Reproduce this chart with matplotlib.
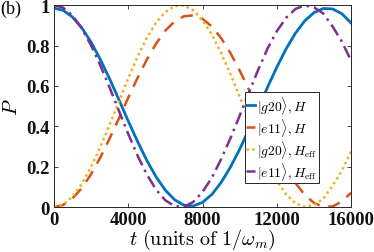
import numpy as np
from matplotlib import pyplot as plt

plt.rcParams['mathtext.fontset'] = 'cm'

# time axis (units of 1/omega_m)
t = np.arange(0, 16001, 500)

# |g20>, H  (full Hamiltonian)
g20_H = [0.985, 0.974, 0.941, 0.888, 0.817, 0.731, 0.635, 0.532, 0.427, 0.326,
         0.232, 0.150, 0.084, 0.037, 0.010, 0.006, 0.024, 0.063, 0.122, 0.198,
         0.287, 0.386, 0.490, 0.594, 0.693, 0.784, 0.861, 0.922, 0.963, 0.983,
         0.981, 0.957, 0.911]
# |e11>, H
e11_H = [0.000, 0.011, 0.043, 0.094, 0.163, 0.246, 0.340, 0.439, 0.541, 0.639,
         0.730, 0.809, 0.874, 0.919, 0.945, 0.949, 0.932, 0.894, 0.837, 0.763,
         0.676, 0.581, 0.480, 0.380, 0.283, 0.195, 0.120, 0.061, 0.021, 0.002,
         0.004, 0.028, 0.072]
# |e11>, H_eff
e11_Heff = [1.000, 0.987, 0.948, 0.885, 0.801, 0.702, 0.592, 0.477, 0.363, 0.256,
            0.163, 0.087, 0.034, 0.005, 0.002, 0.026, 0.075, 0.146, 0.237, 0.341,
            0.453, 0.568, 0.681, 0.785, 0.871, 0.937, 0.981, 0.998, 0.989, 0.958,
            0.894, 0.819, 0.724]
# |g20>, H_eff
g20_Heff = [0.000, 0.013, 0.052, 0.115, 0.199, 0.298, 0.408, 0.523, 0.637, 0.744,
            0.837, 0.913, 0.966, 0.995, 0.998, 0.974, 0.925, 0.854, 0.763, 0.659,
            0.547, 0.432, 0.319, 0.215, 0.129, 0.063, 0.019, 0.002, 0.011, 0.042,
            0.106, 0.181, 0.276]

xticks = [0, 4000, 8000, 12000, 16000]
yticks = [0, 0.2, 0.4, 0.6, 0.8, 1]
ytick_labels = ["0", "0.2", "0.4", "0.6", "0.8", "1"]

fig = plt.figure(figsize=(3.74, 2.53), dpi=100)
ax = fig.add_axes([0.144, 0.177, 0.795, 0.799])

ax.plot(t, g20_H, color="#0072BD", lw=2.0, label=r"$|g20\rangle, H$")
ax.plot(t, e11_H, color="#D95319", lw=1.8, ls=(0, (5, 3.5)), label=r"$|e11\rangle, H$")
ax.plot(t, g20_Heff, color="#EDB120", lw=1.8, ls=(0, (1, 1.3)), label=r"$|g20\rangle, H_{\rm eff}$")
ax.plot(t, e11_Heff, color="#7E2F8E", lw=1.8, ls=(0, (5, 2, 1, 2)), label=r"$|e11\rangle, H_{\rm eff}$")

ax.set_xlim(0, 16000)
ax.set_ylim(0, 1)
ax.set_xticks(xticks)
ax.set_xticklabels([str(v) for v in xticks])
ax.set_yticks(yticks)
ax.set_yticklabels(ytick_labels)
ax.tick_params(direction="in", top=True, right=True, length=3, width=0.6,
               colors="#262626", pad=3)
for lab in ax.get_xticklabels() + ax.get_yticklabels():
    lab.set_fontfamily("Liberation Serif")
    lab.set_fontweight("bold")
    lab.set_fontsize(13.5)
    lab.set_color("#111111")
for s in ax.spines.values():
    s.set_color("#262626")
    s.set_linewidth(0.7)

ax.set_xlabel(r"$t\ \mathrm{(units\ of\ }1/\omega_m\mathrm{)}$", fontsize=14.5)
ax.xaxis.set_label_coords(0.5, -0.218)
ax.xaxis.label.set_va("bottom")
ax.set_ylabel(r"$P$", fontsize=15)
ax.yaxis.set_label_coords(-0.112, 0.5)

leg = ax.legend(loc="lower left", bbox_to_anchor=(0.643, 0.12), borderaxespad=0,
                fontsize=9.8, handlelength=0.6, handletextpad=0.2,
                borderpad=0.1, labelspacing=0.0, fancybox=False, framealpha=1)
leg.get_frame().set_edgecolor("#262626")
leg.get_frame().set_linewidth(0.7)

fig.text(0.0, 0.964, "(b)", fontsize=13, family="Liberation Serif", va="center")

fig.savefig("out.png", dpi=100)
